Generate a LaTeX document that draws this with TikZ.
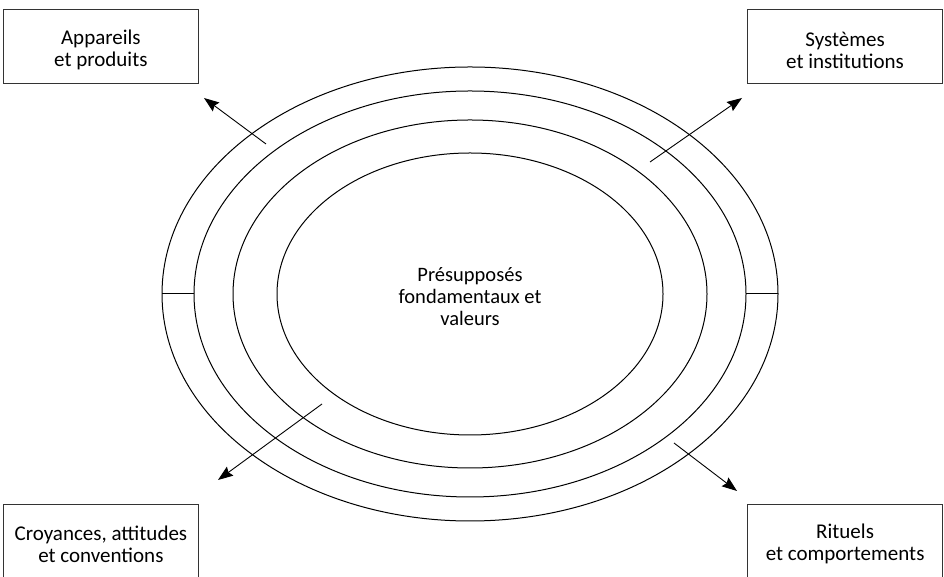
\documentclass[tikz,border=0pt]{standalone}
\usepackage{fontspec}
\setmainfont{Carlito}
\usetikzlibrary{arrows.meta}

\tikzset{
  labelbox/.style={draw=black!80, line width=0.8pt, minimum width=195pt,
    minimum height=74pt, inner sep=0pt},
  boxtext/.style={align=center, font=\fontsize{21}{22}\selectfont},
  ring/.style={line width=1pt},
  outarrow/.style={line width=0.9pt, -{Stealth[length=15pt,width=11pt,inset=2pt]}}
}

\begin{document}
\begin{tikzpicture}[x=1pt,y=1pt]
  %%%%% START %%%%%
  \useasboundingbox (0,0) rectangle (944,577);
  \clip (0,0) rectangle (944,577);

  % rings
  \draw[ring] (470,283) ellipse (308pt and 227pt);
  \draw[ring] (470,283) ellipse (276pt and 203pt);
  \draw[ring] (470,283) ellipse (237pt and 174pt);
  \draw[ring] (470,283) ellipse (193pt and 141pt);
  \draw[ring] (162,283) -- (194,283);
  \draw[ring] (746,283) -- (778,283);

  \node[boxtext, font=\fontsize{20.5}{22}\selectfont] (noyau) at (470,280)
    {Présupposés\\fondamentaux et\\valeurs};

  % boxes
  \node[labelbox, anchor=north west,
    label={[boxtext, name=appareilstext, yshift=-4pt]center:Appareils\\et produits}]
    (appareils) at (3,568) {};
  \node[labelbox, anchor=north east,
    label={[boxtext, name=systemestext, yshift=-4pt]center:Systèmes\\et institutions}]
    (systemes) at (943,568) {};
  \node[labelbox, anchor=north west, minimum height=80pt,
    label={[boxtext, name=croyancestext]center:Croyances, attitudes\\et conventions}]
    (croyances) at (3,73) {};
  \node[labelbox, anchor=north east, minimum height=80pt,
    label={[boxtext, name=rituelstext]center:Rituels\\et comportements}]
    (rituels) at (943,73) {};

  % arrows
  \coordinate (tlstart) at (266,433);
  \coordinate (tlend) at (204,479);
  \coordinate (trstart) at (650,415);
  \coordinate (trend) at (742,479);
  \coordinate (blstart) at (322,173);
  \coordinate (blend) at (218,97);
  \coordinate (brstart) at (674,134);
  \coordinate (brend) at (737,86);
  \draw[outarrow] (tlstart) -- (tlend);
  \draw[outarrow] (trstart) -- (trend);
  \draw[outarrow] (blstart) -- (blend);
  \draw[outarrow] (brstart) -- (brend);
  %%%%% END %%%%%
\end{tikzpicture}
\end{document}
